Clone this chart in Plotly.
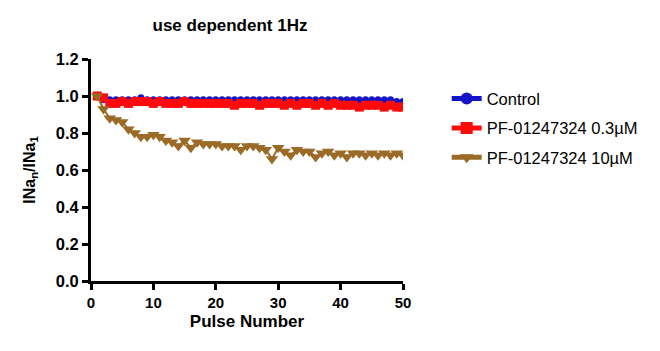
import plotly.graph_objects as go

pulse = list(range(1, 51))
control = [1.00, 0.98, 0.98, 0.98, 0.98, 0.98, 0.98, 0.99, 0.98, 0.98,
           0.98, 0.98, 0.98, 0.98, 0.98, 0.98, 0.98, 0.98, 0.98, 0.98,
           0.98, 0.98, 0.98, 0.98, 0.98, 0.98, 0.98, 0.98, 0.98, 0.98,
           0.98, 0.98, 0.98, 0.98, 0.98, 0.98, 0.98, 0.98, 0.98, 0.98,
           0.98, 0.98, 0.98, 0.98, 0.98, 0.98, 0.98, 0.98, 0.97, 0.97]
pf03 = [1.00, 0.99, 0.96, 0.96, 0.97, 0.96, 0.97, 0.97, 0.97, 0.96,
        0.97, 0.96, 0.96, 0.96, 0.97, 0.96, 0.96, 0.96, 0.96, 0.96,
        0.96, 0.96, 0.95, 0.96, 0.96, 0.96, 0.95, 0.96, 0.96, 0.96,
        0.95, 0.96, 0.95, 0.96, 0.96, 0.95, 0.96, 0.95, 0.96, 0.95,
        0.95, 0.95, 0.94, 0.95, 0.95, 0.95, 0.94, 0.95, 0.94, 0.94]
pf10 = [1.00, 0.93, 0.88, 0.87, 0.86, 0.82, 0.80, 0.78, 0.78, 0.79,
        0.78, 0.76, 0.75, 0.73, 0.76, 0.72, 0.75, 0.74, 0.74, 0.74,
        0.73, 0.73, 0.73, 0.71, 0.73, 0.73, 0.72, 0.71, 0.66, 0.72,
        0.70, 0.68, 0.71, 0.70, 0.70, 0.67, 0.69, 0.70, 0.68, 0.69,
        0.67, 0.69, 0.69, 0.68, 0.69, 0.68, 0.69, 0.68, 0.69, 0.68]

series = [
    ("Control", control, "#1414c8", "circle", 7),
    ("PF-01247324 0.3\u00b5M", pf03, "#ff0a0a", "square", 9),
    ("PF-01247324 10\u00b5M", pf10, "#9a6a26", "triangle-down", 11),
]

fig = go.Figure()
for name, vals, col, sym, sz in series:
    fig.add_trace(go.Scatter(
        x=pulse, y=vals, name=name, mode="lines+markers", legendgroup=name,
        line=dict(color=col, width=2),
        marker=dict(color=col, symbol=sym, size=sz),
    ))

font = "Liberation Sans, Arial, sans-serif"
fig.update_layout(
    width=660, height=351,
    margin=dict(l=91, r=257, t=59, b=70),
    plot_bgcolor="white", paper_bgcolor="white",
    title=dict(text="use dependent 1Hz", x=230 / 660, xanchor="center",
               y=1 - 25 / 351, yanchor="middle",
               font=dict(family=font, size=17, color="black", weight="bold")),
    showlegend=True,
    legend=dict(x=1.14, y=0.90, xanchor="left", yanchor="top",
                font=dict(family=font, size=16.5, color="black"),
                tracegroupgap=5, itemsizing="constant"),
    xaxis=dict(range=[0, 50], tickvals=[0, 10, 20, 30, 40, 50],
               showline=True, linecolor="black", linewidth=3,
               ticks="outside", ticklen=6, tickwidth=3, tickcolor="black",
               showgrid=False, zeroline=False,
               tickfont=dict(family=font, size=15, color="black", weight="bold"),
               title=dict(text="Pulse Number", standoff=6,
                          font=dict(family=font, size=17, color="black", weight="bold"))),
    yaxis=dict(range=[0, 1.2], tickvals=[0, 0.2, 0.4, 0.6, 0.8, 1.0, 1.2],
               tickformat=".1f",
               showline=True, linecolor="black", linewidth=3,
               ticks="outside", ticklen=6, tickwidth=3, tickcolor="black",
               showgrid=False, zeroline=False,
               tickfont=dict(family=font, size=16.5, color="black", weight="bold"),
               title=dict(text="INa<sub>n</sub>/INa<sub>1</sub>", standoff=17,
                          font=dict(family=font, size=16, color="black", weight="bold"))),
)

fig.write_html("out.html")
